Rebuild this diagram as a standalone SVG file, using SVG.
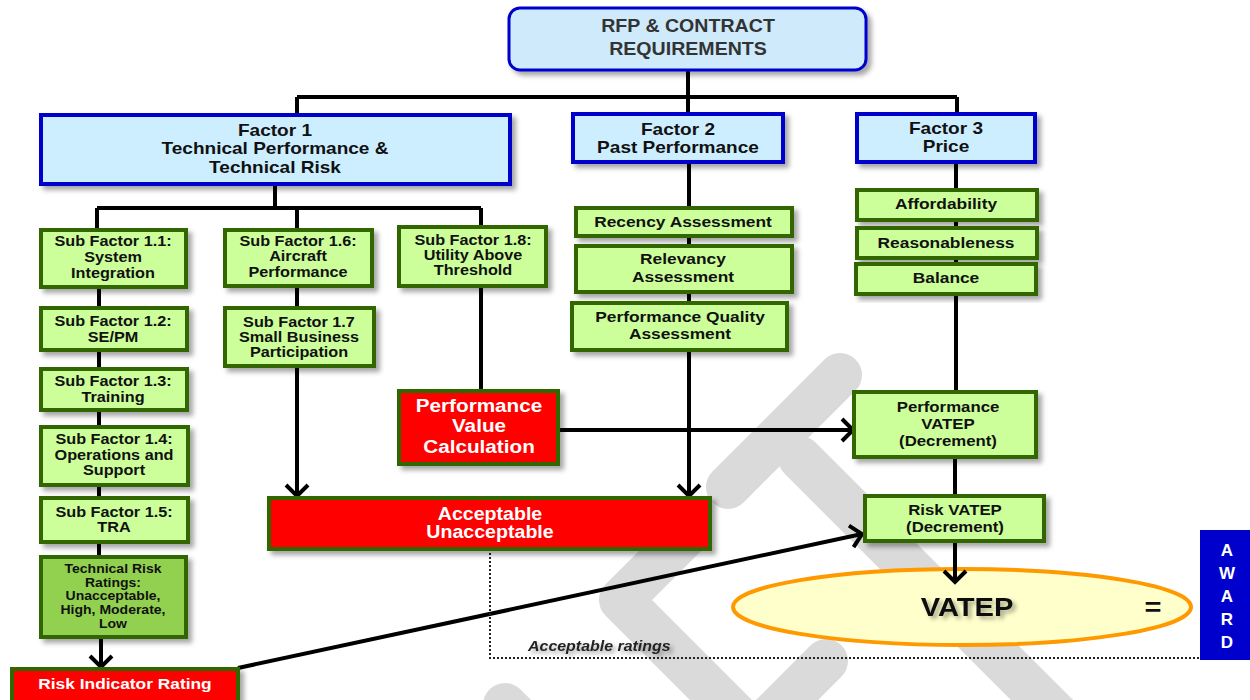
<svg xmlns="http://www.w3.org/2000/svg" width="1250" height="700" viewBox="0 0 1250 700">
<style>
.bg{fill:#ffffff}
.b{fill:#cceeff;stroke:#0000cc;stroke-width:4;filter:url(#sh)}
.g{fill:#ccff99;stroke:#336600;stroke-width:4;filter:url(#sh)}
.gd{fill:#92d050;stroke:#336600;stroke-width:4;filter:url(#sh)}
.r{fill:#ff0000;stroke:#336600;stroke-width:4;filter:url(#sh)}
.t{font-family:"Liberation Sans",Arial,Helvetica,sans-serif;font-weight:bold;text-anchor:middle;fill:#111}
.ln{stroke:#000;stroke-width:4;fill:none}
.ar{stroke:#000;stroke-width:4;fill:none;marker-end:url(#ah)}
.dot{stroke:#222;stroke-width:2;fill:none;stroke-dasharray:2 2}
</style>
<defs>
<filter id="sh" x="-10%" y="-10%" width="130%" height="140%"><feDropShadow dx="4" dy="4" stdDeviation="2.5" flood-color="#000" flood-opacity="0.35"/></filter>
<filter id="tsh" x="-10%" y="-20%" width="130%" height="160%"><feDropShadow dx="3" dy="3" stdDeviation="2" flood-color="#000" flood-opacity="0.35"/></filter>
<marker id="ah" markerUnits="userSpaceOnUse" markerWidth="16" markerHeight="26" viewBox="0 0 16 26" refX="13" refY="13" orient="auto"><path d="M2,2 L13,13 L2,24" fill="none" stroke="#000" stroke-width="4"/></marker>
</defs>
<rect class="bg" x="0" y="0" width="1250" height="700"/>
<g id="watermark" stroke="#dadada" stroke-width="44" stroke-linecap="round" stroke-linejoin="round" fill="none">
<path d="M840,375 L728,487"/>
<path d="M690,531 L621,600 L735,714"/>
<path d="M800,458 L1090,748"/>
<path d="M826,661 L770,717"/>
<path d="M505,705 L540,740"/>
</g>
<g id="vatep">
<ellipse cx="962" cy="607" rx="229" ry="38" style="fill:#ffffcc;stroke:#ff9900;stroke-width:4"/>
<text class="t" transform="matrix(1.12 0 0 1 967 0)" style="font-size:26px;filter:url(#tsh)"><tspan x="0" y="616">VATEP</tspan></text>
<text class="t" transform="matrix(1.12 0 0 1 1153 0)" style="font-size:26px"><tspan x="0" y="616">=</tspan></text>
</g>
<g id="connectors">
<path class="ln" d="M688,70 V97 M297,97 H957 M297,97 V115 M688,97 V114 M957,97 V114"/>
<path class="ln" d="M275,184 V208 M97,208 H481 M97,208 V230 M297,208 V230 M481,208 V227"/>
<path class="ln" d="M99,287 V557"/>
<path class="ar" d="M101,637 V667"/>
<path class="ln" d="M297,286 V308"/>
<path class="ar" d="M297,366 V496"/>
<path class="ln" d="M481,286 V391"/>
<path class="ar" d="M689,162 V496"/>
<path class="ln" d="M956,162 V392 M955,457 V496"/>
<path class="ar" d="M955,541 V582"/>
<path class="ar" d="M558,430 H853"/>
<path class="ar" d="M238,668 L862,534"/>
<path class="dot" d="M490,549 V658 H1200"/>
<text class="t" x="0" y="0" transform="matrix(1.1 0 0 1 528 651)" style="text-anchor:start;font-style:italic;font-size:14.5px;fill:#222;filter:url(#tsh)">Acceptable ratings</text>
</g>
<g id="rfp">
<rect x="509" y="8" width="357" height="62" rx="11" style="fill:#cfeafb;stroke:#0000cc;stroke-width:3;filter:url(#sh)"/>
<text class="t" transform="matrix(1.12 0 0 1 688 0)" style="font-size:17.5px;fill:#333"><tspan x="0" y="32">RFP &amp; CONTRACT</tspan><tspan x="0" y="55">REQUIREMENTS</tspan></text>
</g>
<g id="factor1">
<rect class="b" x="41" y="115" width="469" height="69"/>
<text class="t" transform="matrix(1.12 0 0 1 275 0)" style="font-size:17px"><tspan x="0" y="136">Factor 1</tspan><tspan x="0" y="154">Technical Performance &amp;</tspan><tspan x="0" y="173">Technical Risk</tspan></text>
</g>
<g id="factor2">
<rect class="b" x="573" y="114" width="210" height="48"/>
<text class="t" transform="matrix(1.12 0 0 1 678 0)" style="font-size:17px"><tspan x="0" y="135">Factor 2</tspan><tspan x="0" y="153">Past Performance</tspan></text>
</g>
<g id="factor3">
<rect class="b" x="857" y="114" width="178" height="48"/>
<text class="t" transform="matrix(1.12 0 0 1 946 0)" style="font-size:17px"><tspan x="0" y="134">Factor 3</tspan><tspan x="0" y="152">Price</tspan></text>
</g>
<g id="sf11">
<rect class="g" x="41" y="230" width="145" height="57"/>
<text class="t" transform="matrix(1.12 0 0 1 113 0)" style="font-size:14.5px"><tspan x="0" y="246">Sub Factor 1.1:</tspan><tspan x="0" y="262">System</tspan><tspan x="0" y="278">Integration</tspan></text>
</g>
<g id="sf12">
<rect class="g" x="41" y="308" width="146" height="42"/>
<text class="t" transform="matrix(1.12 0 0 1 113 0)" style="font-size:14.5px"><tspan x="0" y="326">Sub Factor 1.2:</tspan><tspan x="0" y="342">SE/PM</tspan></text>
</g>
<g id="sf13">
<rect class="g" x="41" y="369" width="146" height="41"/>
<text class="t" transform="matrix(1.12 0 0 1 113 0)" style="font-size:14.5px"><tspan x="0" y="386">Sub Factor 1.3:</tspan><tspan x="0" y="402">Training</tspan></text>
</g>
<g id="sf14">
<rect class="g" x="41" y="427" width="147" height="58"/>
<text class="t" transform="matrix(1.12 0 0 1 114 0)" style="font-size:14.5px"><tspan x="0" y="444">Sub Factor 1.4:</tspan><tspan x="0" y="460">Operations and</tspan><tspan x="0" y="475">Support</tspan></text>
</g>
<g id="sf15">
<rect class="g" x="41" y="498" width="147" height="44"/>
<text class="t" transform="matrix(1.12 0 0 1 114 0)" style="font-size:14.5px"><tspan x="0" y="517">Sub Factor 1.5:</tspan><tspan x="0" y="532">TRA</tspan></text>
</g>
<g id="trr">
<rect class="gd" x="41" y="557" width="145" height="80"/>
<text class="t" transform="matrix(1.12 0 0 1 113 0)" style="font-size:12.5px"><tspan x="0" y="573.5">Technical  Risk</tspan><tspan x="0" y="587">Ratings:</tspan><tspan x="0" y="600.5">Unacceptable,</tspan><tspan x="0" y="614.5">High, Moderate,</tspan><tspan x="0" y="628">Low</tspan></text>
</g>
<g id="rir">
<rect class="r" x="12" y="669" width="226" height="40"/>
<text class="t" transform="matrix(1.12 0 0 1 125 0)" style="font-size:15.5px;fill:#fff"><tspan x="0" y="689.5">Risk Indicator Rating</tspan></text>
</g>
<g id="sf16">
<rect class="g" x="225" y="230" width="147" height="56"/>
<text class="t" transform="matrix(1.12 0 0 1 298 0)" style="font-size:14.5px"><tspan x="0" y="246">Sub Factor 1.6:</tspan><tspan x="0" y="261">Aircraft</tspan><tspan x="0" y="277">Performance</tspan></text>
</g>
<g id="sf17">
<rect class="g" x="225" y="308" width="149" height="58"/>
<text class="t" transform="matrix(1.12 0 0 1 299 0)" style="font-size:14.5px"><tspan x="0" y="327">Sub Factor 1.7</tspan><tspan x="0" y="342">Small Business</tspan><tspan x="0" y="357">Participation</tspan></text>
</g>
<g id="sf18">
<rect class="g" x="399" y="227" width="147" height="59"/>
<text class="t" transform="matrix(1.12 0 0 1 473 0)" style="font-size:14.5px"><tspan x="0" y="245">Sub Factor 1.8:</tspan><tspan x="0" y="260">Utility Above</tspan><tspan x="0" y="275">Threshold</tspan></text>
</g>
<g id="pvc">
<rect class="r" x="399" y="391" width="159" height="73"/>
<text class="t" transform="matrix(1.12 0 0 1 479 0)" style="font-size:18.5px;fill:#fff"><tspan x="0" y="412.5">Performance</tspan><tspan x="0" y="432.5">Value</tspan><tspan x="0" y="453.5">Calculation</tspan></text>
</g>
<g id="accept">
<rect class="r" x="269" y="498" width="441" height="51"/>
<text class="t" transform="matrix(1.12 0 0 1 490 0)" style="font-size:17.5px;fill:#fff"><tspan x="0" y="520">Acceptable</tspan><tspan x="0" y="538">Unacceptable</tspan></text>
</g>
<g id="recency">
<rect class="g" x="576" y="208" width="216" height="28"/>
<text class="t" transform="matrix(1.12 0 0 1 683 0)" style="font-size:15.5px"><tspan x="0" y="227.5">Recency Assessment</tspan></text>
</g>
<g id="relevancy">
<rect class="g" x="576" y="246" width="216" height="46"/>
<text class="t" transform="matrix(1.12 0 0 1 683 0)" style="font-size:15.5px"><tspan x="0" y="264.5">Relevancy</tspan><tspan x="0" y="282.5">Assessment</tspan></text>
</g>
<g id="pqa">
<rect class="g" x="572" y="303" width="215" height="47"/>
<text class="t" transform="matrix(1.12 0 0 1 680 0)" style="font-size:15.5px"><tspan x="0" y="322.5">Performance Quality</tspan><tspan x="0" y="339.5">Assessment</tspan></text>
</g>
<g id="afford">
<rect class="g" x="857" y="190" width="180" height="30"/>
<text class="t" transform="matrix(1.12 0 0 1 946 0)" style="font-size:15.5px"><tspan x="0" y="209.5">Affordability</tspan></text>
</g>
<g id="reason">
<rect class="g" x="857" y="228" width="180" height="30"/>
<text class="t" transform="matrix(1.12 0 0 1 946 0)" style="font-size:15.5px"><tspan x="0" y="248.5">Reasonableness</tspan></text>
</g>
<g id="balance">
<rect class="g" x="856" y="264" width="180" height="30"/>
<text class="t" transform="matrix(1.12 0 0 1 946 0)" style="font-size:15.5px"><tspan x="0" y="283.5">Balance</tspan></text>
</g>
<g id="pvatep">
<rect class="g" x="854" y="392" width="182" height="65"/>
<text class="t" transform="matrix(1.12 0 0 1 948 0)" style="font-size:15px"><tspan x="0" y="412.5">Performance</tspan><tspan x="0" y="429.5">VATEP</tspan><tspan x="0" y="446.5">(Decrement)</tspan></text>
</g>
<g id="rvatep">
<rect class="g" x="865" y="496" width="179" height="45"/>
<text class="t" transform="matrix(1.12 0 0 1 955 0)" style="font-size:15px"><tspan x="0" y="515.5">Risk VATEP</tspan><tspan x="0" y="532.5">(Decrement)</tspan></text>
</g>
<g id="award">
<rect x="1200" y="530" width="52" height="130" style="fill:#0000cc"/>
<text class="t" style="font-size:17px;fill:#fff"><tspan x="1227" y="556">A</tspan><tspan x="1227" y="579">W</tspan><tspan x="1227" y="602">A</tspan><tspan x="1227" y="625">R</tspan><tspan x="1227" y="648">D</tspan></text>
</g>
</svg>
